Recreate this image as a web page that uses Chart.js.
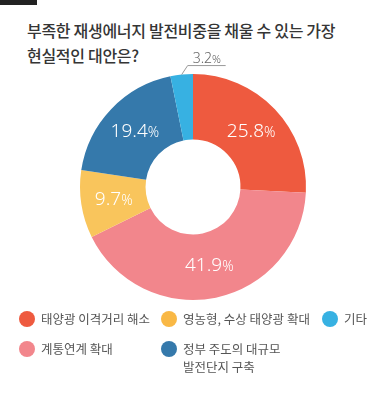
<!DOCTYPE html>
<html>
<head>
<meta charset="utf-8">
<script src="https://cdn.jsdelivr.net/npm/chart.js@4"></script>
<style>
  html, body { margin: 0; padding: 0; background: #fff; }
  body { width: 386px; height: 400px; position: relative; overflow: hidden;
         font-family: "Noto Sans CJK KR", "Noto Sans", sans-serif; }
  .topbar { position: absolute; left: 0; top: 0; width: 37px; height: 5px; background: #222; }
  .title { position: absolute; left: 27px; top: 18px; font-size: 16px; line-height: 25px;
           color: #353535; font-weight: 500; letter-spacing: -0.3px; }
  #chart-canvas { position: absolute; left: 0; top: 0; }
  .legend { position: absolute; left: 19px; top: 310px; display: grid;
            grid-auto-flow: column; grid-template-rows: 30px auto;
            grid-template-columns: 142px 161px auto; }
  .legend-item { display: flex; align-items: flex-start; font-size: 12.5px; line-height: 18px;
                 color: #555; }
  .legend-item .dot { width: 16px; height: 16px; border-radius: 50%; margin-right: 6px;
                      margin-top: 1px; flex: none; }
</style>
</head>
<body>
<div class="topbar"></div>
<div class="title">부족한 재생에너지 발전비중을 채울 수 있는 가장<br>현실적인 대안은?</div>
<canvas id="chart-canvas" width="386" height="400"></canvas>
<div class="legend" id="legend"></div>
<script>
const categories = ["태양광 이격거리 해소", "계통연계 확대", "영농형, 수상 태양광 확대", "정부 주도의 대규모\n발전단지 구축", "기타"];
const values = [25.8, 41.9, 9.7, 19.4, 3.2];
const sliceColors = ["#EE5A3F", "#F2868C", "#F9C55C", "#3579AB", "#37B1E2"];
const legendColors = ["#EE5A3F", "#F2868C", "#F9B845", "#3579AB", "#37B1E2"];

// Legend (HTML, column-major like the original)
const legendBox = document.getElementById("legend");
categories.forEach((cat, i) => {
    const item = document.createElement("div");
    item.className = "legend-item";
    const dot = document.createElement("span");
    dot.className = "dot";
    dot.style.background = legendColors[i];
    const txt = document.createElement("span");
    txt.innerHTML = cat.replace("\n", "<br>");
    item.appendChild(dot);
    item.appendChild(txt);
    legendBox.appendChild(item);
});

// slice labels, small slices get a leader line outside
const sliceLabels = {
    id: "sliceLabels",
    afterDatasetsDraw(chart) {
        const ctx = chart.ctx;
        const meta = chart.getDatasetMeta(0);
        ctx.save();
        meta.data.forEach((arc, i) => {
            const v = values[i];
            const mid = (arc.startAngle + arc.endAngle) / 2;
            const label = v.toFixed(1);
            if (v >= 5) {
                const r = (arc.innerRadius + arc.outerRadius) / 2;
                const x = arc.x + Math.cos(mid) * r;
                const y = arc.y + Math.sin(mid) * r;
                drawPct(ctx, label, x, y, "#fff", 19, 14, "center");
            } else {
                const px = arc.x + Math.cos(mid) * arc.outerRadius;
                const py = arc.y + Math.sin(mid) * arc.outerRadius;
                const ex = px + 6, ey = py - 9;
                ctx.strokeStyle = "#999";
                ctx.lineWidth = 1;
                ctx.beginPath();
                ctx.moveTo(px, py);
                ctx.lineTo(ex, ey);
                ctx.lineTo(ex + 38, ey);
                ctx.stroke();
                drawPct(ctx, label, ex + 5, ey - 7, "#666", 14, 11, "left");
            }
        });
        ctx.restore();
    }
};

function drawPct(ctx, num, x, y, color, size, pctSize, align) {
    ctx.fillStyle = color;
    ctx.textBaseline = "middle";
    ctx.font = "300 " + size + "px 'Noto Sans', sans-serif";
    const w1 = ctx.measureText(num).width;
    ctx.font = "300 " + pctSize + "px 'Noto Sans', sans-serif";
    const w2 = ctx.measureText("%").width;
    let sx = align === "center" ? x - (w1 + w2) / 2 : x;
    ctx.textAlign = "left";
    ctx.font = "300 " + size + "px 'Noto Sans', sans-serif";
    ctx.fillText(num, sx, y);
    ctx.font = "300 " + pctSize + "px 'Noto Sans', sans-serif";
    ctx.fillText("%", sx + w1, y + (size - pctSize) * 0.28);
}

const theChart = document.getElementById("chart-canvas").getContext("2d");
new Chart(theChart, {
    type: "doughnut",
    data: {
        labels: categories,
        datasets: [{
            data: values,
            backgroundColor: sliceColors,
            borderWidth: 0
        }]
    },
    options: {
        responsive: false,
        animation: false,
        cutout: "42%",
        layout: { padding: { left: 80, right: 80, top: 74, bottom: 100 } },
        plugins: {
            legend: { display: false },
            tooltip: { enabled: false }
        }
    },
    plugins: [sliceLabels]
});
</script>
</body>
</html>
